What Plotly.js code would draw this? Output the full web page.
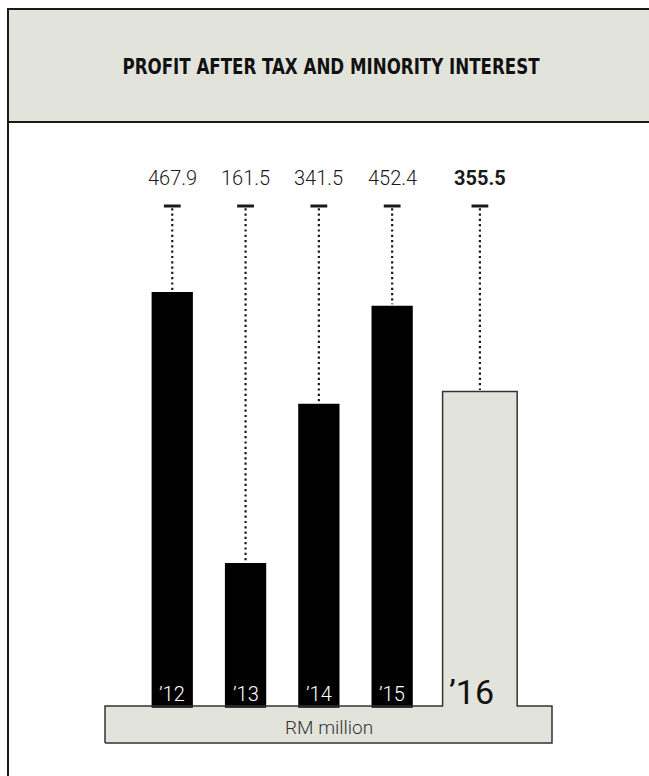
<!DOCTYPE html>
<html>
<head>
<meta charset="utf-8">
<script src="https://cdn.plot.ly/plotly-3.0.1.min.js"></script>
<style>
  html, body { margin: 0; padding: 0; background: #ffffff; }
  #chart { width: 649px; height: 776px; }
</style>
</head>
<body>
<div id="chart"></div>
<script>
// Profit after tax and minority interest, RM million
const years = ['\u201912', '\u201913', '\u201914', '\u201915', '\u201916'];
const profit = [467.9, 161.5, 341.5, 452.4, 355.5];
const valueLabels = ['467.9', '161.5', '341.5', '452.4', '355.5'];
const unitLabel = 'RM million';
const titleText = 'PROFIT AFTER TAX AND MINORITY INTEREST';

// styling
const INK = '#1a1a1a';
const PANEL = '#e2e4dc';
const FONT = 'Roboto, "Liberation Sans", Arial, sans-serif';
const COND = '"Liberation Sans Narrow", "DejaVu Sans Condensed", "Roboto", sans-serif';

const W = 649, H = 776;
const pxPerCat = 73.3;       // horizontal pixels per category step
const pxPerUnit = 0.885;     // vertical pixels per RM million
const basePx = 706;          // pixel row of the zero line
const x0 = -2.35;            // left edge of the x range
const xRange = [x0, x0 + W / pxPerCat];
const yRange = [-(H - basePx) / pxPerUnit, basePx / pxPerUnit];
const toY = py => (basePx - py) / pxPerUnit;   // pixel row -> value units
const toX = px => px / pxPerCat + x0;          // pixel column -> x units

const last = years.length - 1;
const narrowW = 0.563, wideW = 1.018, wideOff = -0.312;
const idx = years.map((_, i) => i);
const widths = idx.map(i => i === last ? wideW : narrowW);
const offsets = idx.map(i => i === last ? wideOff : -narrowW / 2);
const centers = idx.map(i => i + offsets[i] + widths[i] / 2);

const tickLevel = toY(206);
const labelLevel = toY(178);

const traces = [];

// bars: black for prior years, panel-coloured for the current year
traces.push({
  type: 'bar',
  x: idx,
  y: profit.map(v => v + 2),
  base: profit.map(() => -2),
  width: widths,
  offset: offsets,
  marker: { color: idx.map(i => i === last ? PANEL : '#000000'), line: { width: 0 } },
  hoverinfo: 'skip'
});

// outline of the base plate merged with the current-year bar
const plateL = toX(105), plateR = toX(552), plateB = toY(743);
const bL = last + wideOff, bR = last + wideOff + wideW, bTop = profit[last];
traces.push({
  type: 'scatter', mode: 'lines',
  x: [plateL, plateL, bL, bL, bR, bR, plateR, plateR, plateL],
  y: [plateB, 0, 0, bTop, bTop, 0, 0, plateB, plateB],
  line: { color: '#333333', width: 1.5 },
  hoverinfo: 'skip'
});

// dotted leaders from the tick down to each bar top
idx.forEach(i => {
  traces.push({
    type: 'scatter', mode: 'lines',
    x: [centers[i], centers[i]],
    y: [tickLevel - 2.5, profit[i] + 1.5],
    line: { color: INK, width: 2.2, dash: '2.2px,3.1px' },
    hoverinfo: 'skip'
  });
});

// short tick caps
traces.push({
  type: 'scatter', mode: 'markers',
  x: centers,
  y: centers.map(() => tickLevel),
  marker: { symbol: 'line-ew', size: 12, line: { color: INK, width: 3 } },
  hoverinfo: 'skip'
});

const annotations = [];
idx.forEach(i => {
  annotations.push({
    x: centers[i], y: labelLevel, xref: 'x', yref: 'y',
    text: i === last ? '<b>' + valueLabels[i] + '</b>' : valueLabels[i],
    showarrow: false, xanchor: 'center', yanchor: 'middle',
    font: { family: FONT, size: 20, color: INK, weight: i === last ? 700 : 300 }
  });
  annotations.push(i === last ? {
    x: centers[i], y: toY(692), xref: 'x', yref: 'y', xshift: -8,
    text: years[i], showarrow: false, xanchor: 'center', yanchor: 'middle',
    font: { family: FONT, size: 34, color: '#111111' }
  } : {
    x: centers[i], y: toY(694), xref: 'x', yref: 'y',
    text: years[i], showarrow: false, xanchor: 'center', yanchor: 'middle',
    font: { family: FONT, size: 20, color: '#ffffff', weight: 300 }
  });
});
annotations.push({
  x: (plateL + plateR) / 2, y: toY(727), xref: 'x', yref: 'y',
  text: unitLabel, showarrow: false, xanchor: 'center', yanchor: 'middle',
  font: { family: FONT, size: 19, color: '#333333', weight: 300 }
});

const px = v => v / W, py = v => 1 - v / H;
const shapes = [
  // base plate fill
  { type: 'rect', xref: 'x', yref: 'y', x0: plateL, x1: plateR, y0: plateB, y1: 0,
    fillcolor: PANEL, line: { width: 0 }, layer: 'below' },
  // header band
  { type: 'rect', xref: 'paper', yref: 'paper', x0: px(8), x1: px(652), y0: py(122), y1: py(9),
    fillcolor: PANEL, line: { width: 0 }, layer: 'below' },
  // frame lines
  { type: 'line', xref: 'paper', yref: 'paper', x0: px(8), x1: px(8), y0: py(9), y1: py(780),
    line: { color: INK, width: 2 } },
  { type: 'line', xref: 'paper', yref: 'paper', x0: px(7), x1: px(652), y0: py(9), y1: py(9),
    line: { color: INK, width: 2 } },
  { type: 'line', xref: 'paper', yref: 'paper', x0: px(7), x1: px(652), y0: py(122), y1: py(122),
    line: { color: INK, width: 2 } }
];

const layout = {
  width: W, height: H,
  margin: { l: 0, r: 0, t: 0, b: 0 },
  paper_bgcolor: '#ffffff', plot_bgcolor: 'rgba(0,0,0,0)',
  showlegend: false,
  barmode: 'overlay',
  title: {
    text: '<b>' + titleText + '</b>',
    x: px(331), y: py(66), xref: 'paper', yref: 'paper',
    xanchor: 'center', yanchor: 'middle',
    font: { family: COND, size: 22, color: '#111111' }
  },
  xaxis: { range: xRange, visible: false, fixedrange: true },
  yaxis: { range: yRange, visible: false, fixedrange: true },
  shapes: shapes,
  annotations: annotations
};

// squeeze the heading into a condensed width
function condenseTitle() {
  const t = document.querySelector('#chart .gtitle');
  if (t) {
    t.setAttribute('textLength', '417');
    t.setAttribute('lengthAdjust', 'spacingAndGlyphs');
  }
}

Plotly.newPlot('chart', traces, layout, { staticPlot: true, displayModeBar: false })
  .then(condenseTitle);
</script>
</body>
</html>
